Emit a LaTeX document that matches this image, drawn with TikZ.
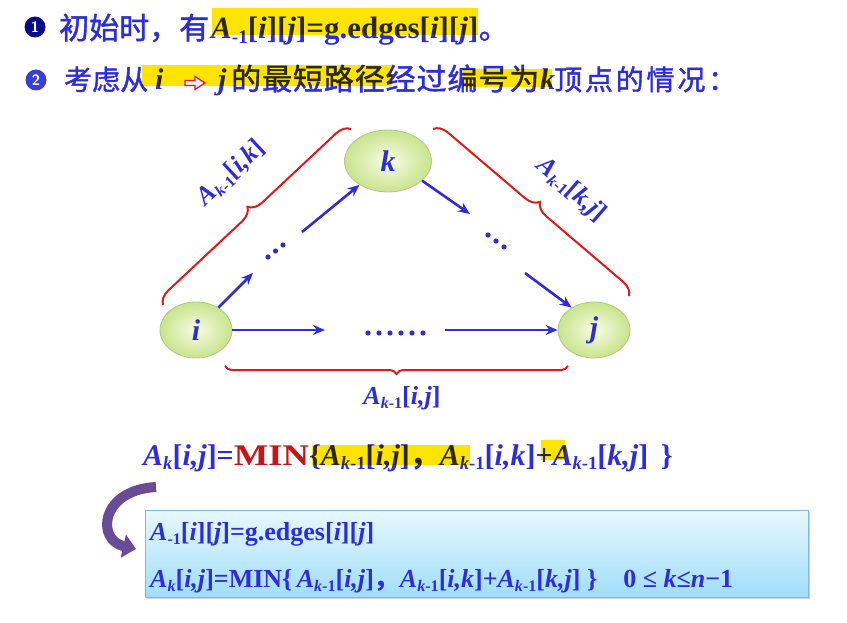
\documentclass[tikz,border=0pt]{standalone}
\usepackage{fontspec}
\setmainfont{Liberation Serif}
\newfontfamily\cjk{Noto Sans CJK SC}
\usetikzlibrary{shapes.geometric,arrows.meta,decorations.pathreplacing,shadows}
\definecolor{tblue}{RGB}{45,45,220}
\definecolor{bred}{RGB}{225,25,25}
\definecolor{hyel}{RGB}{255,228,0}
\definecolor{mred}{RGB}{200,20,20}
\definecolor{nodeout}{RGB}{200,228,140}
\definecolor{nodein}{RGB}{248,252,228}
\definecolor{nodeedge}{RGB}{175,200,135}
\definecolor{purp}{RGB}{105,75,150}
\definecolor{boxtop}{RGB}{232,248,255}
\definecolor{boxbot}{RGB}{160,222,250}
\definecolor{boxedge}{RGB}{125,185,225}
\definecolor{pinkw}{RGB}{255,235,245}
\newcommand\lo[1]{\raisebox{-0.35ex}{\scalebox{0.62}{#1}}}
\newcommand\fs[1]{\fontsize{#1}{#1}\selectfont}
\newcommand\cjkfont[2]{\cjk\fs{#1}\addfontfeature{FakeBold=1.5,LetterSpace=#2}}
\tikzset{
  vert/.style={ellipse, draw=nodeedge, line width=0.8pt, inner color=nodein, outer color=nodeout,
     text=tblue, font=\bfseries\itshape\fs{30}, inner sep=0pt},
  arr/.style={draw=tblue, line width=2.6pt, -{Stealth[length=12pt,width=10pt,inset=4pt]}},
  brc/.style={draw=bred, line width=2pt, decorate, decoration={brace, amplitude=14pt}},
  lbl/.style={text=tblue, font=\bfseries\fs{26}, inner sep=0pt},
  num/.style={circle, inner sep=0pt, minimum size=21pt, text=white, font=\sffamily\bfseries\fs{15}},
  txt/.style={anchor=base west, inner sep=0pt, text=tblue},
  dotc/.style={fill=tblue},
  hl/.style={fill=hyel},
}
\begin{document}
\begin{tikzpicture}[x=1pt,y=-1pt]
\useasboundingbox (0,0) rectangle (847,623);
% ---------- line 1
\node[num, fill={rgb,255:red,10;green,10;blue,140}] (n1) at (35,27) {1};
\node[txt, font=\cjkfont{30}{0}] (l1a) at (59,39) {初始时，有};
\node[txt, font=\bfseries\fs{31}] (l1b) at (211,39) {\textit{A}\lo{-1}[\textit{i}][\textit{j}]=g.edges[\textit{i}][\textit{j}]};
\node[txt, font=\cjkfont{30}{0}] (l1c) at (l1b.base east) {。};
% ---------- line 2
\node[num, fill={rgb,255:red,60;green,60;blue,220}] (n2) at (36,80) {2};
\node[txt, font=\cjkfont{28}{0}] (l2a) at (64,90) {考虑从};
\node[txt, font=\bfseries\itshape\fs{30}] (l2i) at (155,90) {i};
\node[txt, font=\bfseries\itshape\fs{30}] (l2j) at (218,90) {j};
\node[txt, font=\cjkfont{30}{3}] (l2b) at (231,90) {的最短路径经过编号为};
\node[txt, font=\bfseries\itshape\fs{30}] (l2k) at (540,90) {k};
\node[txt, font=\cjkfont{28}{10}] (l2c) at (554,90) {顶点的情况：};
% ---------- graph
\node[vert, minimum width=72pt, minimum height=56pt] (i) at (196,330) {i};
\node[vert, minimum width=87pt, minimum height=62pt] (k) at (388,161) {k};
\node[vert, minimum width=72pt, minimum height=56pt] (j) at (594,330) {j};
\coordinate (p1) at (253,273);
\coordinate (p2) at (302,232);
\coordinate (q1) at (470,214);
\coordinate (q2) at (525,273);
\coordinate (r1) at (325,330);
\coordinate (r2) at (445,330);
\draw[arr] (i.45) -- (p1);
\draw[arr] (p2) -- (k.220);
\draw[arr] (k.-30) -- (q1);
\draw[arr] (q2) -- (j.135);
\draw[arr] (i.east) -- (r1);
\draw[arr] (r2) -- (j.west);
\foreach \x/\y in {268/257,275.5/251,283/245, 488/235,496/241,504/247} \fill[dotc] (\x,\y) circle (2.6pt);
\foreach \x in {368,379,390,401,412,423} \fill[dotc] (\x,333) circle (2.6pt);
% braces
\coordinate (b1s) at (163,305); \coordinate (b1e) at (351,129);
\coordinate (b2s) at (433,129); \coordinate (b2e) at (629,296);
\coordinate (b3s) at (568,366); \coordinate (b3e) at (225,366);
\draw[brc] (b1s) -- (b1e);
\draw[brc] (b2s) -- (b2e);
\draw[brc, decoration={amplitude=8pt}] (b3s) -- (b3e);
\node[lbl, rotate=43] (lk) at (231,173) {\textit{A}\lo{\textit{k}-1}[\textit{i,k}]};
\node[lbl, rotate=-41] (lkj) at (571,190) {\textit{A}\lo{\textit{k}-1}[\textit{k,j}]};
\node[lbl] (lij) at (402,398) {\textit{A}\lo{\textit{k}-1}[\textit{i,j}]};
% ---------- formula
\node[txt, font=\bfseries\fs{30}] (f) at (143,465)
 {\textit{A}\lo{\textit{k}}[\textit{i,j}]=\textcolor{mred}{\scalebox{1.22}[1]{MIN}}\{\textit{A}\lo{\textit{k}-1}[\textit{i,j}]{\cjk ，}\textit{A}\lo{\textit{k}-1}[\textit{i,k}]+\textit{A}\lo{\textit{k}-1}[\textit{k,j}]\ \,\}};
% ---------- highlights (multiply over text)
\begin{scope}[blend mode=multiply]
\fill[hl] (212,8) rectangle (478,35);
\fill[hl] (142,65) rectangle (392,86);
\fill[hl] (463,69) rectangle (552,87);
\fill[hl] (312,445) rectangle (470,465);
\fill[hl] (541,440) rectangle (565,460);
\end{scope}
% red outline arrow of line 2
\filldraw[draw=bred, fill=pinkw, line width=1.3pt, line join=miter]
  (185,80.5) -- (195,80.5) -- (195,76.5) -- (205,83) -- (195,89.5) -- (195,85.5) -- (185,85.5) -- cycle;
% ---------- box
\node[draw=boxedge, line width=0.8pt, top color=boxtop, bottom color=boxbot, minimum width=663pt, minimum height=87pt,
  drop shadow={opacity=0.35, shadow xshift=2pt, shadow yshift=-2pt}] (box) at (476.5,553.5) {};
\node[txt, font=\bfseries\fs{26}] (bx1) at (150,540)
 {\textit{A}\lo{-1}[\textit{i}][\textit{j}]=g.edges[\textit{i}][\textit{j}]};
\node[txt, font=\bfseries\fs{26}] (bx2) at (150,587)
 {\textit{A}\lo{\textit{k}}[\textit{i,j}]=MIN\{\,\textit{A}\lo{\textit{k}-1}[\textit{i,j}]{\cjk ，}\textit{A}\lo{\textit{k}-1}[\textit{i,k}]+\textit{A}\lo{\textit{k}-1}[\textit{k,j}] \}\quad 0 ≤ \textit{k}≤\textit{n}−1};
% curved arrow
\coordinate (c0) at (156,487);
\coordinate (c1) at (136,549);
\draw[purp, line width=10pt, -{Triangle[length=13pt,width=23pt]}] (c0) .. controls (100,490) and (96,540) .. (c1);
\end{tikzpicture}
\end{document}
